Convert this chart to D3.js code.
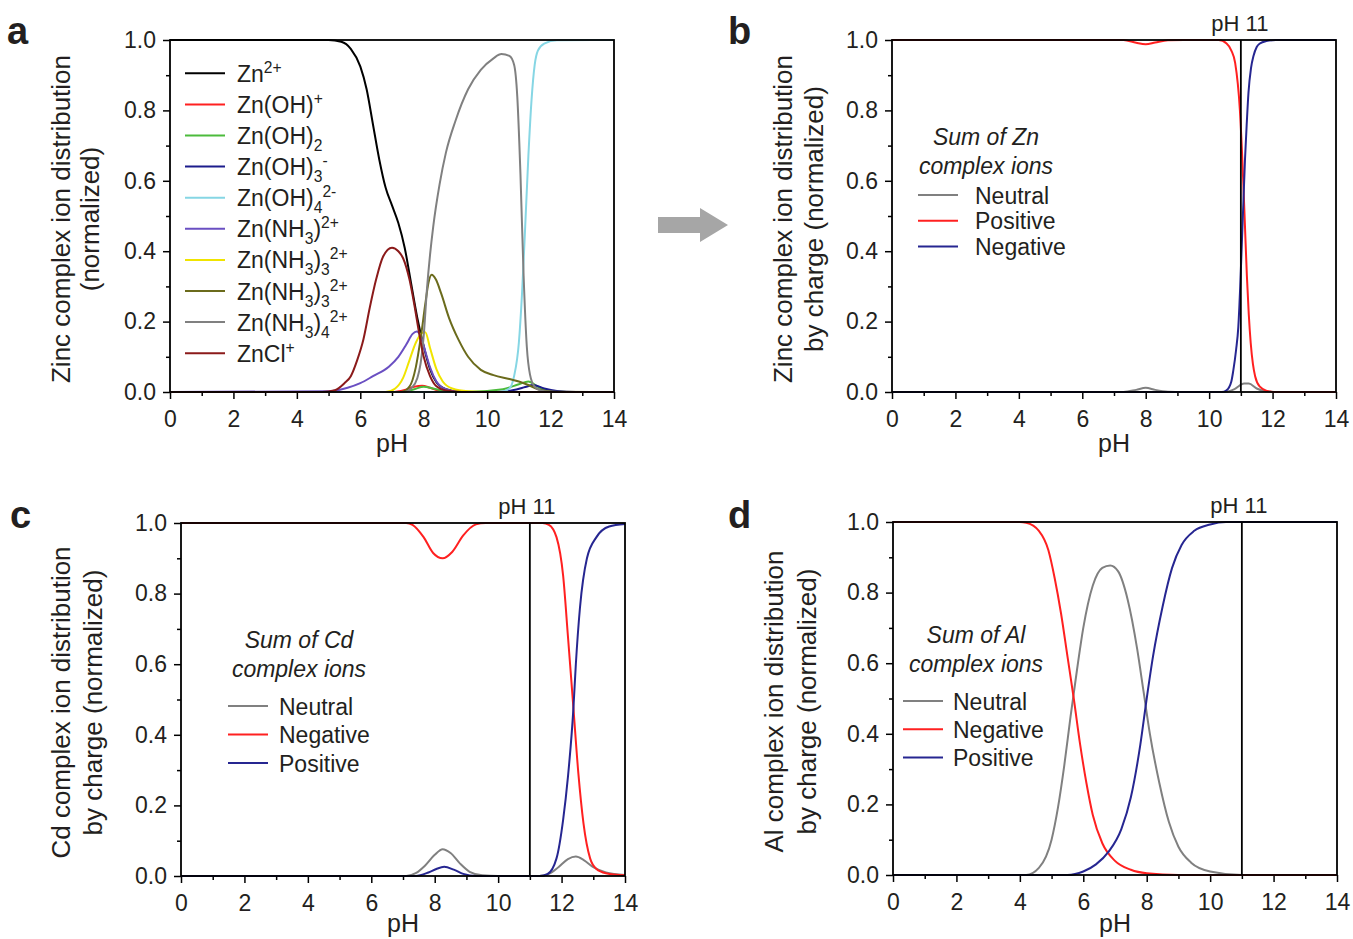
<!DOCTYPE html>
<html>
<head>
<meta charset="utf-8">
<script src="https://d3js.org/d3.v7.min.js"></script>
<style>
body { margin: 0; background: #fff; }
text { font-family: Arial, "Liberation Sans", sans-serif; fill: #231f20; }
</style>
</head>
<body>
<svg id="fig" width="1353" height="939"></svg>
<script>

// ---- data: [pH, fraction] ----

// panel a, zinc species
var zn2    = [[0,1],[5,1],[5.4,0.995],[5.7,0.975],[6,0.925],[6.2,0.86],[6.4,0.76],[6.6,0.66],[6.8,0.58],[7,0.53],[7.2,0.48],[7.4,0.41],[7.6,0.31],[7.8,0.21],[8,0.13],[8.2,0.065],[8.4,0.028],[8.7,0.008],[9.2,0],[14,0]];
var znOH   = [[0,0],[7,0],[7.4,0.006],[7.7,0.015],[7.95,0.018],[8.2,0.012],[8.5,0.003],[9,0],[14,0]];
var znOH2  = [[0,0],[7.3,0],[7.7,0.008],[8,0.015],[8.3,0.01],[8.7,0.003],[9.5,0.001],[10.5,0.008],[11,0.022],[11.3,0.03],[11.6,0.015],[12,0.003],[12.5,0],[14,0]];
var znOH3  = [[0,0],[10.3,0],[10.8,0.005],[11.2,0.014],[11.45,0.02],[11.8,0.01],[12.2,0.003],[12.8,0],[14,0]];
var znOH4  = [[0,0],[10.4,0],[10.7,0.01],[10.85,0.045],[11,0.14],[11.1,0.28],[11.2,0.47],[11.3,0.67],[11.4,0.83],[11.5,0.93],[11.6,0.97],[11.8,0.99],[12.2,0.999],[14,1]];
var znNH3  = [[0,0],[5,0.002],[5.6,0.012],[6,0.025],[6.4,0.045],[6.9,0.072],[7.2,0.1],[7.45,0.135],[7.65,0.165],[7.78,0.172],[7.9,0.16],[8.05,0.115],[8.2,0.07],[8.4,0.03],[8.7,0.008],[9.2,0],[14,0]];
var znNH3y = [[0,0],[6.8,0],[7.1,0.01],[7.35,0.04],[7.55,0.09],[7.75,0.14],[7.95,0.168],[8.05,0.17],[8.2,0.125],[8.4,0.065],[8.6,0.03],[8.9,0.01],[9.4,0.002],[10,0],[14,0]];
var znNH3o = [[0,0],[7.3,0],[7.55,0.015],[7.75,0.07],[7.9,0.15],[8.05,0.25],[8.15,0.31],[8.25,0.333],[8.38,0.32],[8.55,0.28],[8.8,0.21],[9.1,0.148],[9.4,0.1],[9.8,0.063],[10.2,0.048],[10.7,0.037],[11,0.03],[11.3,0.02],[11.6,0.008],[12.1,0.001],[14,0]];
var znNH34 = [[0,0],[7.4,0],[7.6,0.01],[7.8,0.04],[7.9,0.08],[8,0.16],[8.1,0.29],[8.2,0.39],[8.3,0.47],[8.5,0.59],[8.7,0.68],[9,0.77],[9.4,0.86],[9.8,0.915],[10.2,0.948],[10.45,0.96],[10.7,0.955],[10.85,0.93],[10.95,0.84],[11.05,0.62],[11.15,0.33],[11.25,0.13],[11.35,0.05],[11.5,0.015],[11.8,0.002],[12.2,0],[14,0]];
var znCl   = [[0,0],[4.8,0],[5.2,0.005],[5.5,0.025],[5.7,0.045],[5.9,0.09],[6.1,0.15],[6.3,0.24],[6.5,0.32],[6.72,0.385],[7,0.41],[7.2,0.4],[7.35,0.38],[7.55,0.32],[7.7,0.25],[7.85,0.17],[8,0.1],[8.2,0.045],[8.4,0.016],[8.7,0.004],[9.2,0],[14,0]];

// panel b, zinc by charge
var bNeutral  = [[0,0],[7.3,0],[7.7,0.006],[8,0.012],[8.3,0.006],[8.7,0.001],[9.2,0],[10.5,0],[10.8,0.008],[11.1,0.024],[11.25,0.024],[11.5,0.01],[11.8,0.002],[12.2,0],[14,0]];
var bPositive = [[0,1],[7.3,1],[7.7,0.992],[8,0.988],[8.3,0.993],[8.7,0.999],[9.2,1],[10.3,1],[10.55,0.99],[10.7,0.97],[10.82,0.935],[10.97,0.8],[11.07,0.61],[11.13,0.47],[11.19,0.33],[11.25,0.22],[11.31,0.14],[11.38,0.08],[11.45,0.045],[11.6,0.015],[11.8,0.004],[12.1,0],[14,0]];
var bNegative = [[0,0],[10.4,0],[10.55,0.005],[10.7,0.03],[10.76,0.06],[10.85,0.12],[10.92,0.185],[10.98,0.3],[11.03,0.42],[11.08,0.54],[11.13,0.66],[11.19,0.77],[11.24,0.85],[11.32,0.92],[11.4,0.955],[11.5,0.98],[11.6,0.99],[11.8,0.997],[12.1,1],[14,1]];

// panel c, cadmium by charge
var cNeutral  = [[0,0],[7.1,0],[7.4,0.008],[7.7,0.03],[8,0.06],[8.25,0.076],[8.5,0.065],[8.8,0.035],[9.1,0.012],[9.5,0.002],[10,0],[11.3,0],[11.6,0.006],[11.9,0.025],[12.2,0.048],[12.45,0.055],[12.7,0.045],[13,0.025],[13.4,0.01],[14,0.003]];
var cNegative = [[0,1],[7.1,1],[7.3,0.995],[7.65,0.96],[7.95,0.915],[8.25,0.9],[8.55,0.918],[8.9,0.965],[9.3,0.996],[9.6,1],[11.4,1],[11.6,0.995],[11.84,0.96],[12.05,0.85],[12.2,0.68],[12.37,0.48],[12.53,0.29],[12.69,0.15],[12.9,0.05],[13.1,0.02],[13.4,0.008],[14,0.002]];
var cPositive = [[0,0],[7.4,0],[7.8,0.01],[8.05,0.02],[8.3,0.026],[8.6,0.018],[8.9,0.006],[9.3,0],[11.3,0],[11.55,0.005],[11.84,0.05],[12.05,0.16],[12.2,0.28],[12.37,0.47],[12.45,0.6],[12.58,0.76],[12.8,0.9],[13.1,0.96],[13.5,0.99],[14,0.997]];

// panel d, aluminium by charge
var dNeutral  = [[0,0],[4.2,0],[4.6,0.02],[5,0.1],[5.2,0.19],[5.4,0.31],[5.6,0.45],[5.8,0.58],[6,0.7],[6.3,0.82],[6.6,0.87],[6.85,0.877],[7.1,0.86],[7.4,0.78],[7.7,0.64],[7.9,0.52],[8.1,0.4],[8.4,0.26],[8.7,0.15],[9,0.08],[9.4,0.035],[10,0.01],[11,0],[14,0]];
var dNegative = [[0,1],[4,1],[4.2,0.998],[4.6,0.975],[4.9,0.92],[5.1,0.84],[5.3,0.74],[5.5,0.62],[5.7,0.5],[5.9,0.37],[6.1,0.26],[6.3,0.17],[6.6,0.09],[7,0.04],[7.5,0.015],[8,0.005],[9,0],[14,0]];
var dPositive = [[0,0],[5.5,0],[6,0.01],[6.4,0.03],[6.8,0.066],[7.2,0.13],[7.5,0.22],[7.8,0.37],[8,0.5],[8.2,0.62],[8.5,0.76],[8.8,0.87],[9.1,0.935],[9.5,0.975],[10,0.993],[10.5,1],[14,1]];

// tick values
var xMajor = [0, 2, 4, 6, 8, 10, 12, 14];
var xMinor = [1, 3, 5, 7, 9, 11, 13];
var yMajor = [0, 0.2, 0.4, 0.6, 0.8, 1.0];
var yMinor = [0.1, 0.3, 0.5, 0.7, 0.9];

// legend labels: pieces of text, "sub" / "sup" for small raised or lowered parts
var labelsA = [
  [["Zn"], ["2+", "sup"]],
  [["Zn(OH)"], ["+", "sup"]],
  [["Zn(OH)"], ["2", "sub"]],
  [["Zn(OH)"], ["3", "sub"], ["-", "sup"]],
  [["Zn(OH)"], ["4", "sub"], ["2-", "sup"]],
  [["Zn(NH"], ["3", "sub"], [")"], ["2+", "sup"]],
  [["Zn(NH"], ["3", "sub"], [")"], ["3", "sub"], ["2+", "sup"]],
  [["Zn(NH"], ["3", "sub"], [")"], ["3", "sub"], ["2+", "sup"]],
  [["Zn(NH"], ["3", "sub"], [")"], ["4", "sub"], ["2+", "sup"]],
  [["ZnCl"], ["+", "sup"]]
];
var colorsA = ["#000000", "#ff2020", "#4cbb3c", "#1c1c8c", "#86d6e4", "#6a4fc2", "#f0e400", "#6b6b1c", "#808080", "#8b1a1a"];
var seriesA = [zn2, znOH, znOH2, znOH3, znOH4, znNH3, znNH3y, znNH3o, znNH34, znCl];

var GRAY = "#808080", RED = "#ff2020", BLUE = "#262691";

var svg = d3.select("#fig");

function addRich(sel, parts, size) {
  var shift = 0;
  parts.forEach(function (p) {
    var target = p[1] === "sub" ? 7 : (p[1] === "sup" ? -9 : 0);
    sel.append("tspan")
      .attr("dy", target - shift)
      .style("font-size", (p[1] ? size * 0.68 : size) + "px")
      .text(p[0]);
    shift = target;
  });
}

function drawPanel(p) {
  var g = svg.append("g");
  var x = d3.scaleLinear().domain([0, 14]).range([p.x0, p.x1]);
  var y = d3.scaleLinear().domain([0, 1]).range([p.y1, p.y0]);

  var line = d3.line()
    .x(function (d) { return x(d[0]); })
    .y(function (d) { return y(d[1]); })
    .curve(d3.curveMonotoneX);

  // minor ticks
  g.append("g").attr("transform", "translate(0," + p.y1 + ")")
    .call(d3.axisBottom(x).tickValues(xMinor).tickSize(4).tickFormat(""))
    .call(function (s) { s.select(".domain").remove(); });
  g.append("g").attr("transform", "translate(" + p.x0 + ",0)")
    .call(d3.axisLeft(y).tickValues(yMinor).tickSize(4).tickFormat(""))
    .call(function (s) { s.select(".domain").remove(); });

  // major ticks
  var xa = g.append("g").attr("transform", "translate(0," + p.y1 + ")")
    .call(d3.axisBottom(x).tickValues(xMajor).tickSize(7).tickPadding(12).tickFormat(d3.format("d")));
  var ya = g.append("g").attr("transform", "translate(" + p.x0 + ",0)")
    .call(d3.axisLeft(y).tickValues(yMajor).tickSize(7).tickPadding(7).tickFormat(d3.format(".1f")));
  [xa, ya].forEach(function (a) {
    a.select(".domain").remove();
    a.selectAll("text").style("font-size", "23px").style("fill", "#231f20").style("font-family", "Arial, 'Liberation Sans', sans-serif");
  });
  g.selectAll(".tick line").attr("stroke", "#000").attr("stroke-width", 1.5);

  // curves
  p.series.forEach(function (s, i) {
    g.append("path").datum(s).attr("d", line)
      .attr("fill", "none").attr("stroke", p.colors[i]).attr("stroke-width", 2);
  });

  // pH 11 marker
  if (p.mark) {
    g.append("line").attr("x1", x(11)).attr("x2", x(11)).attr("y1", p.y0).attr("y2", p.y1)
      .attr("stroke", "#000").attr("stroke-width", 1.8);
    g.append("text").attr("x", x(11) + p.markDx).attr("y", p.y0 - 9)
      .attr("text-anchor", "middle").style("font-size", "22px").text("pH 11");
  }

  // frame
  g.append("rect").attr("x", p.x0).attr("y", p.y0)
    .attr("width", p.x1 - p.x0).attr("height", p.y1 - p.y0)
    .attr("fill", "none").attr("stroke", "#000").attr("stroke-width", 1.8);

  // axis titles
  g.append("text").attr("x", (p.x0 + p.x1) / 2).attr("y", p.y1 + p.phDy)
    .attr("text-anchor", "middle").style("font-size", "25px").text("pH");
  var cy = (p.y0 + p.y1) / 2 + 3;
  p.ytitle.forEach(function (t, i) {
    g.append("text")
      .attr("transform", "translate(" + p.ytx[i] + "," + cy + ") rotate(-90)")
      .attr("text-anchor", "middle").style("font-size", "26px").text(t);
  });

  // panel letter
  g.append("text").attr("x", p.lx).attr("y", p.ly)
    .style("font-size", "38px").style("font-weight", "bold").text(p.letter);

  // legend
  if (p.legendTitle) {
    p.legendTitle.forEach(function (t, i) {
      g.append("text").attr("x", p.ltx).attr("y", p.lty + i * 29)
        .attr("text-anchor", "middle").style("font-size", "23px").style("font-style", "italic").text(t);
    });
  }
  p.legend.forEach(function (lab, i) {
    var ly = p.legY + i * p.legStep;
    g.append("line").attr("x1", p.legX).attr("x2", p.legX + 40).attr("y1", ly).attr("y2", ly)
      .attr("stroke", p.legColors[i]).attr("stroke-width", 2);
    var t = g.append("text").attr("x", p.legTextX).attr("y", ly + 8.5).style("font-size", "23px");
    if (typeof lab === "string") t.text(lab); else addRich(t, lab, 23);
  });
}

// arrow between panels a and b
svg.append("polygon")
  .attr("points", "658,217 700,217 700,208 728,225 700,242 700,233 658,233")
  .attr("fill", "#a6a6a6");

drawPanel({
  letter: "a", lx: 7, ly: 44,
  x0: 170, x1: 614, y0: 40, y1: 392, phDy: 60,
  series: seriesA, colors: colorsA,
  ytitle: ["Zinc complex ion distribution", "(normalized)"], ytx: [70, 99],
  legend: labelsA, legColors: colorsA, legX: 185, legTextX: 237, legY: 73.3, legStep: 31.1
});

drawPanel({
  letter: "b", lx: 728, ly: 44,
  x0: 892, x1: 1336, y0: 40, y1: 392, phDy: 60,
  series: [bNeutral, bPositive, bNegative], colors: [GRAY, RED, BLUE],
  mark: true, markDx: -1,
  ytitle: ["Zinc complex ion distribution", "by charge (normalized)"], ytx: [792, 823],
  legendTitle: ["Sum of Zn", "complex ions"], ltx: 986, lty: 145,
  legend: ["Neutral", "Positive", "Negative"], legColors: [GRAY, RED, BLUE],
  legX: 918, legTextX: 975, legY: 195, legStep: 25.8
});

drawPanel({
  letter: "c", lx: 10, ly: 528,
  x0: 181, x1: 625, y0: 523, y1: 876, phDy: 56,
  series: [cNeutral, cNegative, cPositive], colors: [GRAY, RED, BLUE],
  mark: true, markDx: -3,
  ytitle: ["Cd complex ion distribution", "by charge (normalized)"], ytx: [70, 102],
  legendTitle: ["Sum of Cd", "complex ions"], ltx: 299, lty: 648,
  legend: ["Neutral", "Negative", "Positive"], legColors: [GRAY, RED, BLUE],
  legX: 228, legTextX: 279, legY: 706, legStep: 28.5
});

drawPanel({
  letter: "d", lx: 728, ly: 528,
  x0: 893, x1: 1337, y0: 522, y1: 875, phDy: 57,
  series: [dNeutral, dNegative, dPositive], colors: [GRAY, RED, BLUE],
  mark: true, markDx: -3,
  ytitle: ["Al complex ion distribution", "by charge (normalized)"], ytx: [783, 816],
  legendTitle: ["Sum of Al", "complex ions"], ltx: 976, lty: 643,
  legend: ["Neutral", "Negative", "Positive"], legColors: [GRAY, RED, BLUE],
  legX: 903, legTextX: 953, legY: 701, legStep: 28.3
});

</script>
</body>
</html>
